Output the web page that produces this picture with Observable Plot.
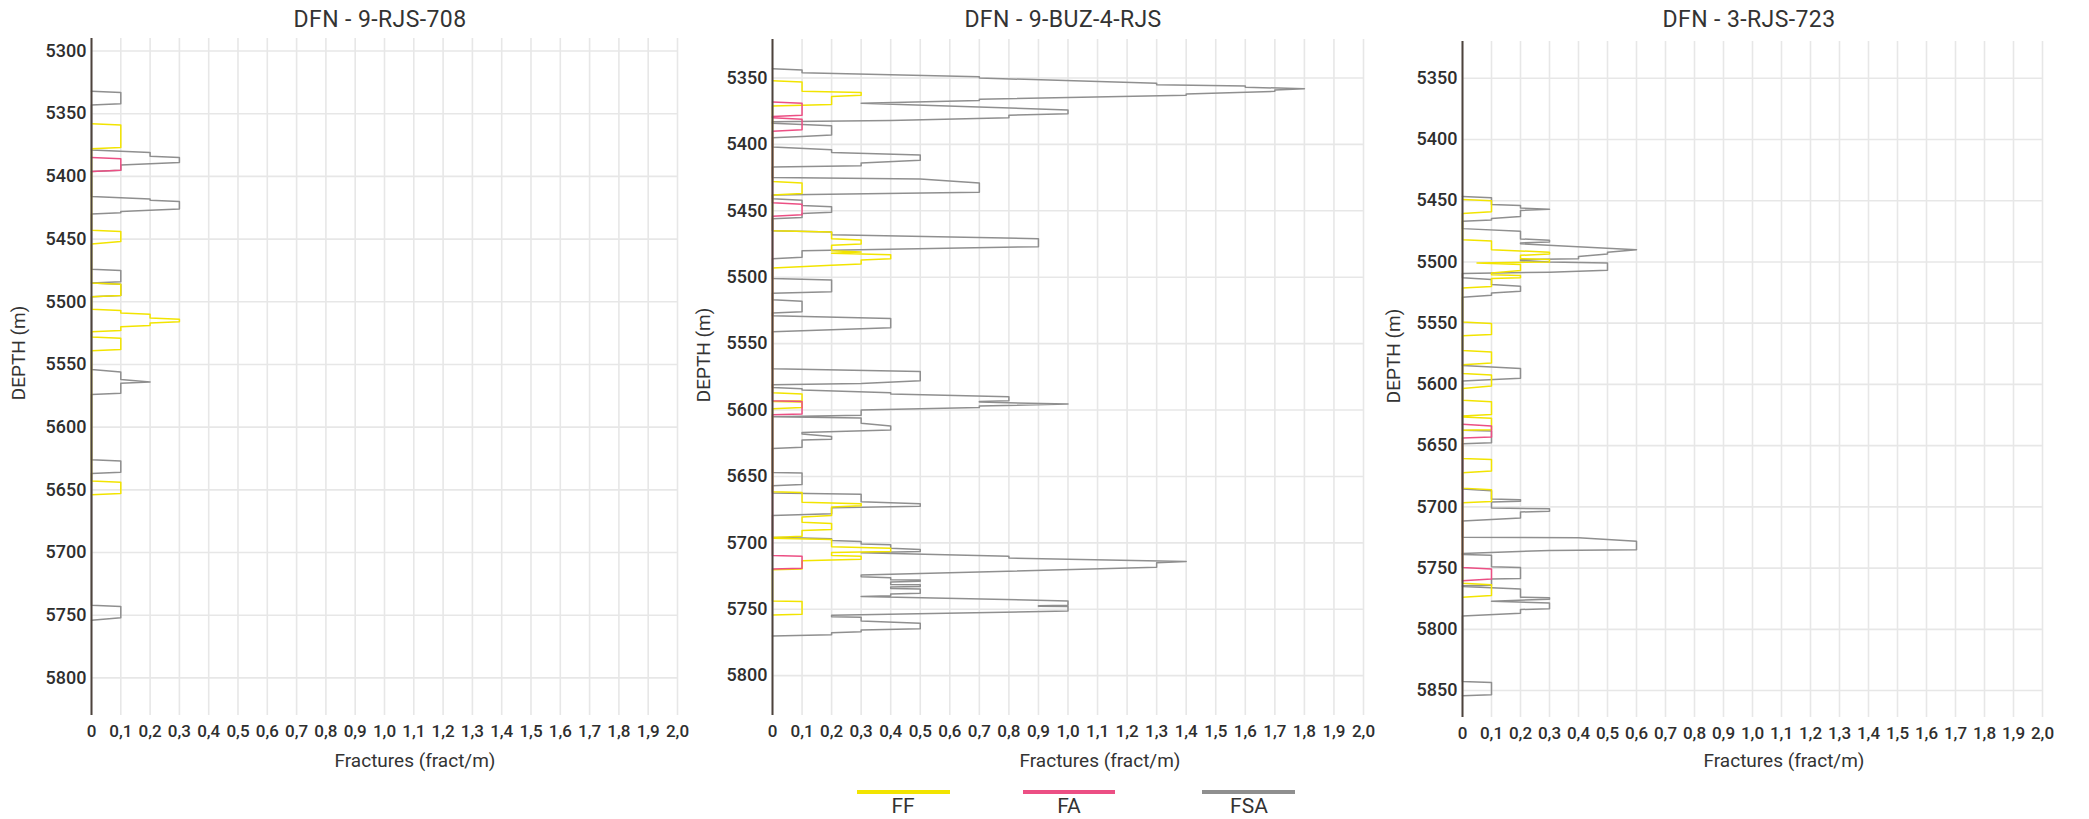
<!DOCTYPE html>
<html>
<head>
<meta charset="utf-8">
<script src="https://cdn.jsdelivr.net/npm/d3@7"></script>
<script src="https://cdn.jsdelivr.net/npm/@observablehq/plot@0.6"></script>
<style>
  body { margin: 0; background: #fff; }
  #root { position: relative; width: 2089px; height: 819px; overflow: hidden; font-family: Roboto, "DejaVu Sans", sans-serif; color: #333; }
  .abs { position: absolute; white-space: nowrap; }
  .title { font-size: 23px; letter-spacing: 0.4px; transform: translate(-50%, -50%); }
  .xtitle { font-size: 19px; transform: translate(-50%, -50%); }
  .ytitle { font-size: 19px; transform: translate(-50%, -50%) rotate(-90deg); }
  .legline { height: 3.5px; }
  .leglab { font-size: 21px; transform: translate(-50%, -50%); }
</style>
</head>
<body>
<div id="root"></div>
<script>
// ---------- data ----------
const panelTitles = ["DFN - 9-RJS-708", "DFN - 9-BUZ-4-RJS", "DFN - 3-RJS-723"];
const seriesNames = ["FF", "FA", "FSA"];
const seriesColors = ["#f2e400", "#ec4f84", "#8f8f8f"];
const xAxisTitle = "Fractures (fract/m)";
const yAxisTitle = "DEPTH (m)";
const xTicks = [0, 0.1, 0.2, 0.3, 0.4, 0.5, 0.6, 0.7, 0.8, 0.9, 1.0, 1.1, 1.2, 1.3, 1.4, 1.5, 1.6, 1.7, 1.8, 1.9, 2.0];
const depthTicks708 = [5300, 5350, 5400, 5450, 5500, 5550, 5600, 5650, 5700, 5750, 5800];
const depthTicksBuz = [5350, 5400, 5450, 5500, 5550, 5600, 5650, 5700, 5750, 5800];
const depthTicks723 = [5350, 5400, 5450, 5500, 5550, 5600, 5650, 5700, 5750, 5800, 5850];
const depthDomain708 = [5290, 5830];
const depthDomainBuz = [5321, 5830];
const depthDomain723 = [5320, 5872];

// [depth (m), fractures (fract/m)]
const rjs708_FF = [[5358,0],[5359,0.1],[5377,0.1],[5378,0],
  [5443,0],[5444,0.1],[5452,0.1],[5454,0],
  [5485,0],[5486,0.1],[5495,0.1],[5496,0],
  [5506,0],[5507,0.1],[5509,0.1],[5510,0.2],[5513,0.2],[5514,0.3],[5516,0.3],[5517,0.2],[5519,0.2],[5520,0.1],[5523,0.1],[5524,0],
  [5528,0],[5529,0.1],[5538,0.1],[5539,0],
  [5643,0],[5644,0.1],[5653,0.1],[5654,0]];
const rjs708_FA = [[5385,0],[5386,0.1],[5395,0.1],[5396,0]];
const rjs708_FSA = [[5332,0],[5333,0.1],[5342,0.1],[5343,0],
  [5379,0],[5381,0.2],[5384,0.2],[5385,0.3],[5389,0.3],[5391,0.1],[5395,0.1],[5396,0],
  [5416,0],[5418,0.2],[5419,0.2],[5420,0.3],[5426,0.3],[5428,0.1],[5429,0.1],[5430,0],
  [5474,0],[5475,0.1],[5484,0.1],[5485,0],[5486,0.1],[5495,0.1],[5496,0],
  [5554,0],[5556,0.1],[5562,0.1],[5564,0.2],[5565,0.1],[5573,0.1],[5574,0],
  [5626,0],[5627,0.1],[5636,0.1],[5637,0],
  [5742,0],[5743,0.1],[5752,0.1],[5754,0]];

const buz4_FF = [[5352,0],[5353,0.1],[5360,0.1],[5361,0.3],[5363,0.3],[5364,0.2],[5370,0.2],[5371,0],
  [5428,0],[5429,0.1],[5437,0.1],[5438,0],
  [5465,0],[5466,0.2],[5471,0.2],[5472,0.3],[5475,0.3],[5476,0.2],[5480,0.2],[5481,0.3],[5482,0.2],[5483,0.4],[5486,0.4],[5487,0.3],[5490,0.3],[5491,0.2],[5493,0],
  [5587,0],[5588,0.1],[5593,0.1],[5593.5,0],[5594,0.1],[5598,0.1],[5599,0],
  [5661.5,0],[5662,0.1],[5669.5,0.1],[5670.5,0.3],[5672,0.3],[5673,0.2],[5679.5,0.2],[5680.5,0.1],[5684.5,0.1],[5685.5,0.2],[5690,0.2],[5690.7,0.1],[5695,0.1],[5696,0],
  [5696.5,0],[5697.5,0.2],[5703,0.2],[5704,0.4],[5706.6,0.4],[5707.3,0.2],[5709.6,0.2],[5710.1,0.3],[5712.3,0.3],[5713.5,0.1],[5719.7,0.1],[5720.2,0],
  [5743.7,0],[5744.2,0.1],[5753.8,0.1],[5754.3,0]];
const buz4_FA = [[5368,0],[5369,0.1],[5378,0.1],[5379,0],
  [5380,0],[5381,0.1],[5389,0.1],[5390,0],
  [5444,0],[5445,0.1],[5453,0.1],[5454,0],
  [5593,0],[5593.5,0.1],[5603,0.1],[5603.5,0],
  [5709.5,0],[5710,0.1],[5719.2,0.1],[5719.7,0]];
const buz4_FSA = [[5343,0],[5344,0.1],[5346,0.1],[5349,0.7],[5350,0.7],[5354,1.3],[5355,1.3],[5356,1.6],[5357,1.6],[5358,1.8],[5359,1.7],[5360,1.7],[5362,1.4],[5363,1.4],[5366,0.7],[5367,0.7],[5369,0.3],[5374,1.0],[5377,1.0],[5378,0.8],[5380,0.8],[5382,0.4],[5383,0],
  [5384,0],[5385,0.1],[5386,0.2],[5393,0.2],[5394,0.1],[5395,0],
  [5402,0],[5404,0.2],[5406,0.2],[5408,0.5],[5412,0.5],[5414,0.3],[5416,0.3],[5417,0],
  [5425,0],[5426,0.5],[5429,0.7],[5436,0.7],[5438,0],
  [5441,0],[5442,0.1],[5446,0.1],[5447,0.2],[5451,0.2],[5452,0.1],[5455,0.1],[5456,0],
  [5465,0],[5466,0.2],[5468,0.2],[5471,0.9],[5477,0.9],[5480,0.1],[5485,0.1],[5486,0],
  [5501,0],[5502,0.2],[5511,0.2],[5512,0],
  [5517,0],[5518,0.1],[5526,0.1],[5527,0],
  [5529,0],[5531,0.4],[5538,0.4],[5541,0],
  [5569,0],[5571,0.5],[5578,0.5],[5580,0.3],[5581,0],
  [5583,0],[5584,0.1],[5585,0.1],[5587,0.4],[5588,0.4],[5590,0.8],[5593,0.8],[5593.5,0.7],[5594,0.7],[5595.5,1.0],[5597,0.7],[5598,0.7],[5600,0.3],[5604,0.3],[5605,0],[5606,0.3],[5610,0.3],[5612,0.4],[5615,0.4],[5617,0.1],[5618,0.1],[5620,0.2],[5622,0.2],[5622.5,0.1],[5628,0.1],[5629,0],
  [5647,0],[5647.5,0.1],[5656,0.1],[5657,0],
  [5662.5,0],[5663.5,0.3],[5669,0.3],[5670.5,0.5],[5672.5,0.5],[5673.5,0.2],[5678,0.2],[5679.5,0],
  [5695.7,0],[5697,0.2],[5698.2,0.2],[5699,0.3],[5700.8,0.3],[5701.5,0.4],[5704,0.4],[5705,0.5],[5706.6,0.5],[5707.5,0.3],[5710,0.8],[5711.5,0.8],[5714,1.4],[5715,1.3],[5718.4,1.3],[5724.2,0.3],[5725.5,0.3],[5726.3,0.4],[5727.8,0.4],[5728,0.5],[5729,0.5],[5729.5,0.4],[5731.3,0.4],[5731.6,0.5],[5732.8,0.5],[5733.3,0.4],[5734.3,0.4],[5734.8,0.5],[5737.9,0.5],[5738.6,0.4],[5739.9,0.4],[5740.4,0.3],[5743.7,1.0],[5747,1.0],[5747.3,0.9],[5747.7,0.9],[5748,1.0],[5751.3,1.0],[5754.5,0.2],[5755.6,0.2],[5756,0.3],[5758.8,0.3],[5760.6,0.5],[5764.6,0.5],[5765.7,0.3],[5766.9,0.3],[5767.7,0.2],[5769.2,0.2],[5770.2,0]];

const rjs723_FF = [[5449,0],[5450,0.1],[5459,0.1],[5460.5,0],
  [5481.8,0],[5483,0.1],[5490,0.1],[5492,0.3],[5493.5,0.3],[5494.6,0.2],[5497.3,0.2],[5498.1,0.3],[5500,0.3],[5500.8,0.05],[5502,0.2],[5507,0.2],[5509,0.1],[5510.5,0.1],[5511,0.2],[5513,0.2],[5513.5,0.1],[5520,0.1],[5521.2,0],
  [5549,0],[5550.3,0.1],[5559.2,0.1],[5560.3,0],
  [5572.3,0],[5573.6,0.1],[5582.6,0.1],[5584,0],
  [5591,0],[5592.4,0.1],[5601.4,0.1],[5603.3,0],
  [5613,0],[5614.1,0.1],[5624.5,0.1],[5625.8,0],
  [5626.6,0],[5627.7,0.1],[5637,0.1],[5637.5,0],
  [5660.6,0],[5661.4,0.1],[5670.7,0.1],[5672.1,0],
  [5684.7,0],[5686,0.1],[5695.6,0.1],[5696.7,0],
  [5762.4,0],[5763.5,0.1],[5772.4,0.1],[5773.8,0]];
const rjs723_FA = [[5632.6,0],[5634,0.1],[5643,0.1],[5643.7,0],
  [5749.5,0],[5750.8,0.1],[5758.9,0.1],[5760.3,0]];
const rjs723_FSA = [[5446.5,0],[5447.5,0.1],[5453,0.1],[5454,0.2],[5456,0.2],[5457,0.3],[5458,0.2],[5463,0.2],[5464.5,0.1],[5465.7,0.1],[5466.8,0],
  [5472.8,0],[5475,0.2],[5481.2,0.2],[5482.3,0.3],[5483.7,0.3],[5484.5,0.2],[5485.2,0.2],[5490,0.6],[5492,0.5],[5493.5,0.5],[5495.5,0.4],[5497.3,0.4],[5498,0.2],[5499,0.2],[5500,0.3],[5500.8,0.5],[5506.8,0.5],[5508.4,0.3],[5509.5,0],
  [5513,0],[5514.4,0.1],[5518.5,0.1],[5519.8,0.2],[5523.9,0.2],[5525.3,0.1],[5527.2,0.1],[5528.8,0],
  [5584.5,0],[5587,0.2],[5595,0.2],[5597.3,0],
  [5637.5,0],[5638,0.1],[5647.6,0.1],[5648.4,0],
  [5685.4,0],[5686.8,0.1],[5693.6,0.1],[5694.2,0.2],[5695.5,0.2],[5696,0.1],[5701,0.1],[5701.5,0.3],[5703.6,0.3],[5704.2,0.2],[5709,0.2],[5711.5,0],
  [5724.8,0],[5725.2,0.4],[5728,0.6],[5735,0.6],[5735.6,0.3],[5738,0],
  [5739,0],[5739.5,0.1],[5749,0.1],[5749.5,0.2],[5758.4,0.2],[5759,0.1],[5764,0.1],[5764.5,0],[5765,0],[5767,0.2],[5773.8,0.2],[5774.3,0.3],[5775.4,0.3],[5777,0.1],[5778.6,0.3],[5783.2,0.3],[5783.8,0.2],[5786.8,0.2],[5789.2,0],
  [5842.7,0],[5843.5,0.1],[5853.5,0.1],[5854.3,0]];

// ---------- layout ----------
const panels = [
  {title: panelTitles[0], series: {FF: rjs708_FF, FA: rjs708_FA, FSA: rjs708_FSA}, ticks: depthTicks708, domain: depthDomain708,
   left: 0, width: 690, mL: 91, mR: 13, mT: 38, mB: 65, titleX: 380, xTitleX: 415, yTitleX: 18, yTitleY: 353},
  {title: panelTitles[1], series: {FF: buz4_FF, FA: buz4_FA, FSA: buz4_FSA}, ticks: depthTicksBuz, domain: depthDomainBuz,
   left: 690, width: 690, mL: 82, mR: 17, mT: 39, mB: 65, titleX: 1063, xTitleX: 1100, yTitleX: 703, yTitleY: 355},
  {title: panelTitles[2], series: {FF: rjs723_FF, FA: rjs723_FA, FSA: rjs723_FSA}, ticks: depthTicks723, domain: depthDomain723,
   left: 1380, width: 709, mL: 82, mR: 47, mT: 41, mB: 63, titleX: 1749, xTitleX: 1784, yTitleX: 1393, yTitleY: 356}
];
const H = 780;
const root = document.getElementById("root");
const fmt = d => d === 0 ? "0" : d.toFixed(1).replace(".", ",");
const drawOrder = ["FSA", "FF", "FA"];

function addText(cls, txt, x, y) {
  const el = document.createElement("div");
  el.className = "abs " + cls;
  el.textContent = txt;
  el.style.left = x + "px";
  el.style.top = y + "px";
  root.appendChild(el);
  return el;
}

for (const p of panels) {
  const chart = Plot.plot({
    width: p.width, height: H,
    marginLeft: p.mL, marginRight: p.mR, marginTop: p.mT, marginBottom: p.mB,
    style: {fontFamily: "Roboto, 'DejaVu Sans', sans-serif", fontSize: "17px", color: "#2e2e2e", background: "transparent", overflow: "visible"},
    x: {domain: [0, 2]},
    y: {domain: p.domain, reverse: true},
    marks: [
      Plot.gridX(xTicks, {stroke: "#e7e7e7", strokeOpacity: 1, strokeWidth: 1.6}),
      Plot.gridY(p.ticks, {stroke: "#e7e7e7", strokeOpacity: 1, strokeWidth: 1.6}),
      Plot.axisX(xTicks, {tickSize: 0, tickPadding: 9, tickFormat: fmt, fontSize: 17, fontWeight: 500, label: null}),
      Plot.axisY(p.ticks, {tickSize: 0, tickPadding: 5, fontSize: 18, fontWeight: 500, label: null, tickFormat: d => String(d)}),
      ...drawOrder.map(s => Plot.line(p.series[s], {
        x: d => d[1], y: d => d[0],
        stroke: seriesColors[seriesNames.indexOf(s)], strokeWidth: 1.5
      })),
      Plot.ruleX([0], {stroke: "#4d433d", strokeWidth: 2})
    ]
  });
  chart.style.position = "absolute";
  chart.style.left = p.left + "px";
  chart.style.top = "0px";
  root.appendChild(chart);
  addText("title", p.title, p.titleX, 19);
  addText("xtitle", xAxisTitle, p.xTitleX, 760);
  addText("ytitle", yAxisTitle, p.yTitleX, p.yTitleY);
}

// legend
const legend = [
  {x1: 857, x2: 950, lx: 903},
  {x1: 1023, x2: 1115, lx: 1069},
  {x1: 1202, x2: 1295, lx: 1249}
];
seriesNames.forEach((s, i) => {
  const ln = document.createElement("div");
  ln.className = "abs legline";
  ln.style.left = legend[i].x1 + "px";
  ln.style.width = (legend[i].x2 - legend[i].x1) + "px";
  ln.style.top = "790px";
  ln.style.background = seriesColors[i];
  root.appendChild(ln);
  addText("leglab", s, legend[i].lx, 806);
});
</script>
</body>
</html>
